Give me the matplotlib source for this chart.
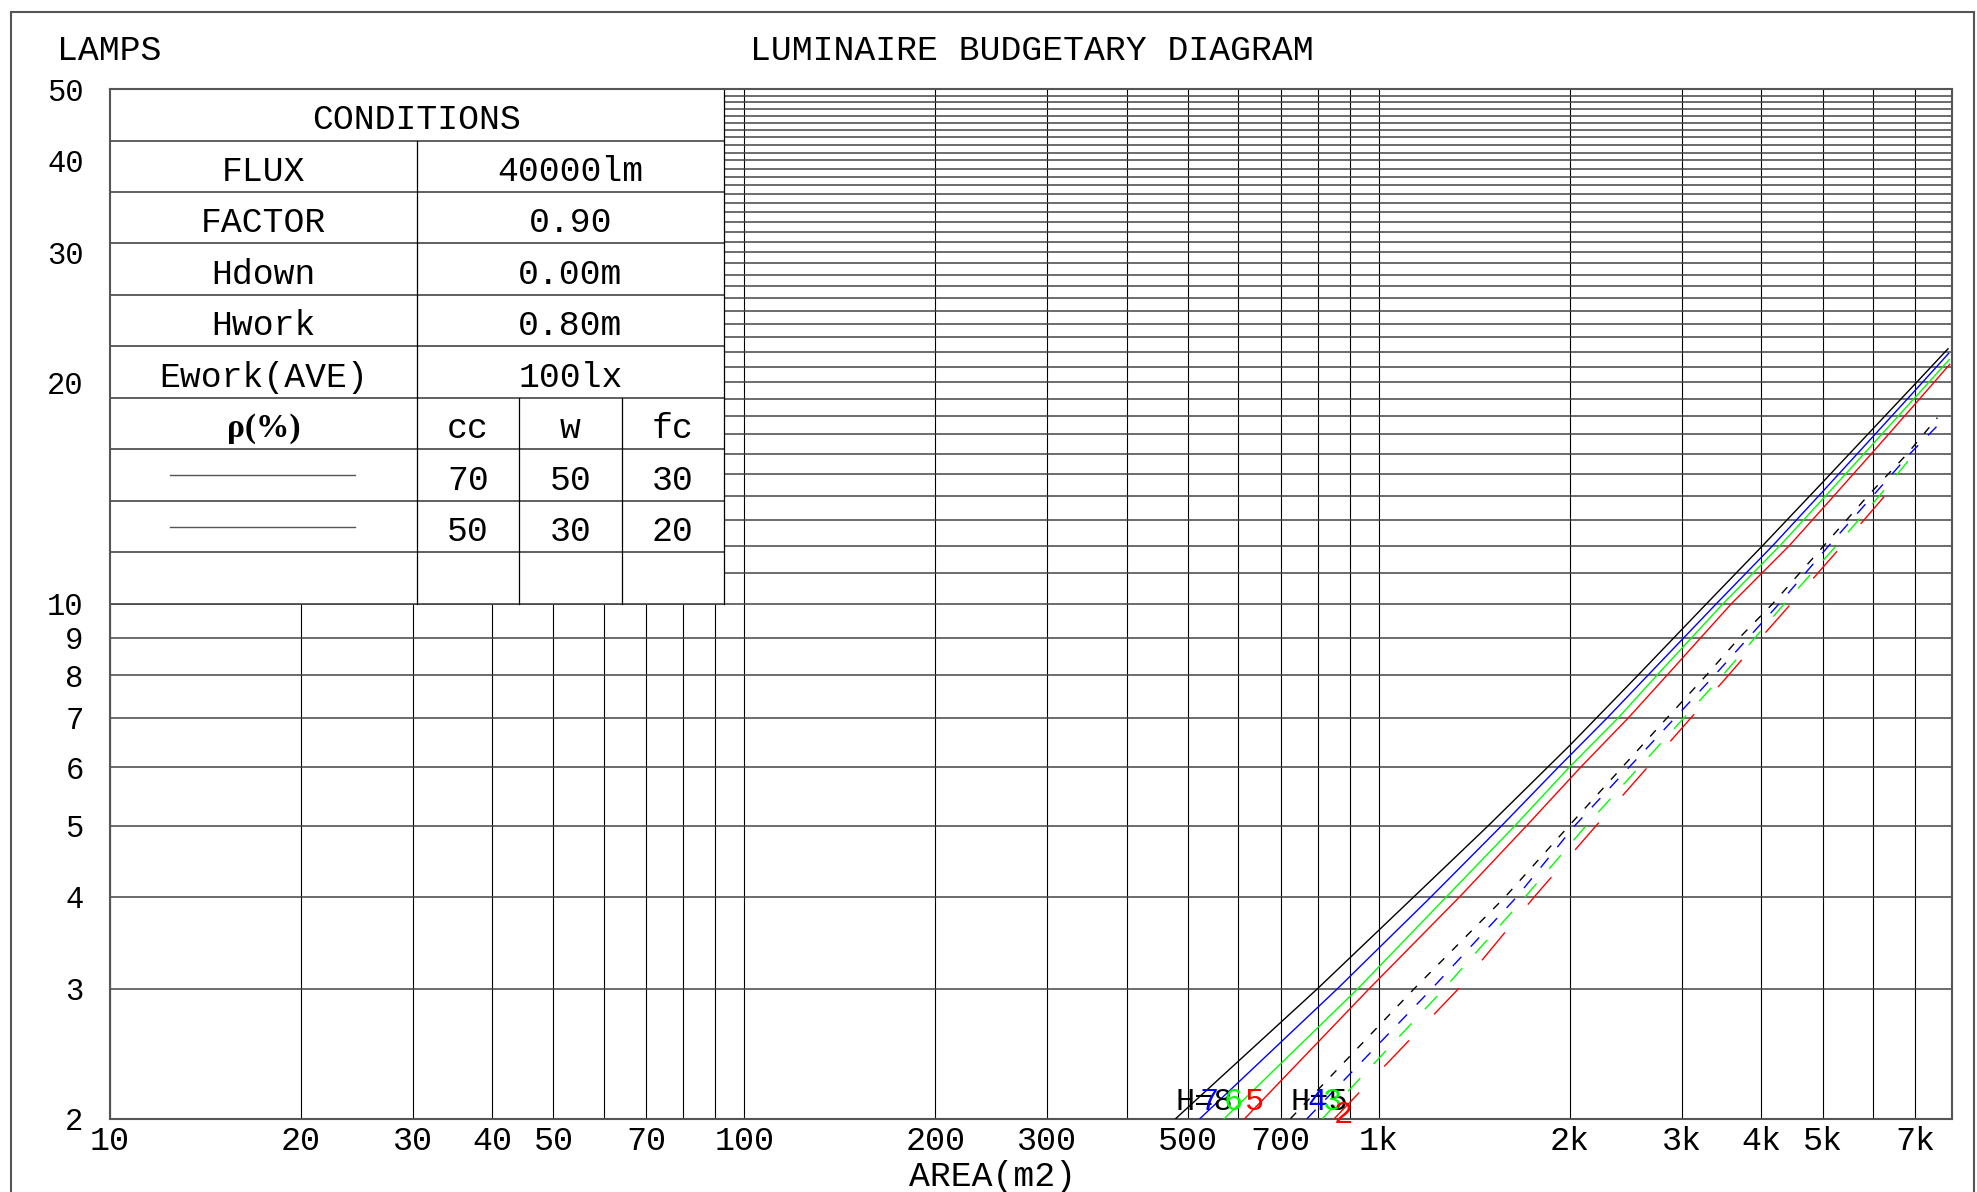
import matplotlib
matplotlib.use("Agg")
import matplotlib.pyplot as plt
from matplotlib.patches import Rectangle
from matplotlib.lines import Line2D
from matplotlib.ticker import FixedLocator, FixedFormatter, NullFormatter

# solid curves (H = 8, 7, 6, 5 m): area (m2) -> lamps
h8_area = [478, 799, 1134, 1487, 2000, 2559, 3280, 4024, 5000, 6000, 7000, 7883]
h8_lamps = [2, 3, 4, 5, 6.43, 8, 10, 12, 14.62, 17.28, 19.9, 22.2]
h7_area = [522, 859, 1207, 1561, 1916, 2288, 2653, 3399, 4174, 5000, 6000, 7000, 7900]
h7_lamps = [2, 3, 4, 5, 6, 7, 8, 10, 12, 14.2, 16.86, 19.5, 21.88]
h6_area = [570, 925, 1276, 1638, 1994, 2381, 2741, 3482, 4285, 5000, 6000, 7000, 7920]
h6_lamps = [2, 3, 4, 5, 6, 7, 8, 10, 12, 13.87, 16.48, 19.08, 21.47]
h5_area = [614, 964, 1339, 1709, 2078, 2470, 2843, 3589, 4433, 5000, 6000, 7000, 7930]
h5_lamps = [2, 3, 4, 5, 6, 7, 8, 10, 12, 13.47, 16.07, 18.69, 21.14]

# dashed curves (H = 5, 4, 3, 2 m)
d5_area = [725, 1135, 1580, 1994, 2843, 3280, 3700, 4170, 5026, 5885, 6805, 7585]
d5_lamps = [2, 3, 4, 5, 7, 8, 9, 10, 12, 14, 16, 17.9]
d4_area = [770, 1210, 1648, 2035, 3379, 4269, 5117, 5993, 6870, 7560]
d4_lamps = [2, 3, 4, 5, 8, 10, 12, 14, 16, 17.4]
d3_area = [814, 1265, 1699, 2120, 3480, 4350, 5258, 6138, 6910]
d3_lamps = [2, 3, 4, 5, 8, 10, 12, 14, 15.85]
d2_area = [850, 1333, 1756, 2199, 3553, 4000, 4457, 5366, 6259, 6329]
d2_lamps = [2, 3, 4, 5, 8, 9, 10, 12, 14, 14.13]

solid = [(h8_area, h8_lamps), (h7_area, h7_lamps), (h6_area, h6_lamps), (h5_area, h5_lamps)]
dashed = [(d5_area, d5_lamps), (d4_area, d4_lamps), (d3_area, d3_lamps), (d2_area, d2_lamps)]
solid_labels = ['H=8', '7', '6', '5']
dashed_labels = ['H=5', '4', '3', '2']
colors = ['black', 'blue', '#00ff00', 'red']
dash_styles = [(6, 8), (9, 10), (13, 14), (26, 26)]

x_ticks = [10, 20, 30, 40, 50, 70, 100, 200, 300, 500, 700, 1000, 2000, 3000, 4000, 5000, 7000]
x_ticklabels = ['10', '20', '30', '40', '50', '70', '100', '200', '300', '500', '700',
                '1k', '2k', '3k', '4k', '5k', '7k']
x_minor = [60, 80, 90, 400, 600, 800, 900, 6000]
y_ticks = [2, 3, 4, 5, 6, 7, 8, 9, 10, 20, 30, 40, 50]
y_minor = [v for v in range(11, 50) if v % 10 != 0]

cond_names = ['FLUX', 'FACTOR', 'Hdown', 'Hwork', 'Ework(AVE)']
cond_values = ['40000lm', '0.90', '0.00m', '0.80m', '100lx']
rho_head = ['cc', 'w', 'fc']
rho_rows = [['70', '50', '30'], ['50', '30', '20']]

MONO = 'Liberation Mono'

fig = plt.figure(figsize=(19.77, 11.92), dpi=100)
ax = fig.add_axes([0.0556, 0.0615, 0.9318, 0.8638])
ax.set_xscale('log')
ax.set_yscale('log')
ax.set_xlim(10, 8000)
ax.set_ylim(2, 50)

ax.xaxis.set_major_locator(FixedLocator(x_ticks))
ax.xaxis.set_major_formatter(FixedFormatter(x_ticklabels))
ax.xaxis.set_minor_locator(FixedLocator(x_minor))
ax.xaxis.set_minor_formatter(NullFormatter())
ax.yaxis.set_major_locator(FixedLocator(y_ticks))
ax.yaxis.set_major_formatter(FixedFormatter([str(v) for v in y_ticks]))
ax.yaxis.set_minor_locator(FixedLocator(y_minor))
ax.yaxis.set_minor_formatter(NullFormatter())
ax.tick_params(which='both', length=0)
ax.tick_params(axis='x', labelsize=24, pad=5)
ax.tick_params(axis='y', labelsize=22, pad=19)
for lab in ax.get_xticklabels() + ax.get_yticklabels():
    lab.set_family(MONO)

ax.set_axisbelow(True)
ax.grid(which='both', axis='x', color='black', lw=0.8)
ax.grid(which='both', axis='y', color='#444444', lw=1.1)
for sp in ax.spines.values():
    sp.set_color('#555555')
    sp.set_linewidth(1.5)

# conditions table (upper left, axes fraction)
tw = 1 / 3
c1 = 1 / 6
ax.add_patch(Rectangle((0, 0.5), tw, 0.5, transform=ax.transAxes,
                       facecolor='white', edgecolor='none', zorder=1))
for k in range(1, 11):
    y = 1 - 0.05 * k
    ax.add_line(Line2D([0, tw], [y, y], transform=ax.transAxes,
                       color='#444444', lw=1.2, zorder=1.5))
ax.add_line(Line2D([tw, tw], [0.5, 1], transform=ax.transAxes, color='black', lw=0.9, zorder=1.5))
ax.add_line(Line2D([c1, c1], [0.5, 0.95], transform=ax.transAxes, color='black', lw=0.9, zorder=1.5))
for xc in [2 / 9, 5 / 18]:
    ax.add_line(Line2D([xc, xc], [0.5, 0.7], transform=ax.transAxes, color='black', lw=0.9, zorder=1.5))

dy = -0.005
txt = dict(transform=ax.transAxes, ha='center', va='center', fontsize=25, family=MONO, zorder=2)
ax.text(c1, 0.975 + dy, 'CONDITIONS', **txt)
for i, (n, v) in enumerate(zip(cond_names, cond_values)):
    yc = 0.925 - 0.05 * i + dy
    ax.text(c1 / 2, yc, n, **txt)
    ax.text((c1 + tw) / 2, yc, v, **txt)
col_x = [7 / 36, 9 / 36, 11 / 36]
ax.text(c1 / 2, 0.675 + dy, 'ρ(%)', transform=ax.transAxes, ha='center', va='center',
        fontsize=24, family='Liberation Serif', weight='bold', zorder=2)
for xc, h in zip(col_x, rho_head):
    ax.text(xc, 0.675 + dy, h, **txt)
for r, row in enumerate(rho_rows):
    yc = 0.625 - 0.05 * r
    ax.add_line(Line2D([0.0326, 0.1333], [yc, yc], transform=ax.transAxes,
                       color='#555555', lw=1.0, zorder=1.5))
    for xc, v in zip(col_x, row):
        ax.text(xc, yc + dy, v, **txt)

# curves
for (xs, ys), c in zip(solid, colors):
    ax.plot(xs, ys, color=c, lw=1.0, zorder=3)
for (xs, ys), c, ds in zip(dashed, colors, dash_styles):
    ax.plot(xs, ys, color=c, lw=1.0, dashes=ds, zorder=3)

for (xs, ys), c, lbl in zip(solid, colors, solid_labels):
    ax.annotate(lbl, (xs[0], ys[0]), xytext=(0, 6), textcoords='offset points',
                ha='left', va='baseline', color=c, fontsize=23, family=MONO, zorder=4)
for i, ((xs, ys), c, lbl) in enumerate(zip(dashed, colors, dashed_labels)):
    off = -3 if i == 3 else 6
    t = ax.annotate(lbl, (xs[0], ys[0]), xytext=(0, off), textcoords='offset points',
                    ha='left', va='baseline', color=c, fontsize=23, family=MONO, zorder=4)
    t.set_clip_on(True)

fig.text(0.522, 0.958, 'LUMINAIRE BUDGETARY DIAGRAM', ha='center', va='center',
         fontsize=25, family=MONO)
fig.text(0.0288, 0.958, 'LAMPS', ha='left', va='center', fontsize=25, family=MONO)
fig.text(0.460, 0.0134, 'AREA(m2)', ha='left', va='center', fontsize=25, family=MONO)

fig.patches.append(Rectangle((0.0056, -0.05), 0.993, 1.04, transform=fig.transFigure,
                             fill=False, edgecolor='#555555', lw=1.5))

fig.savefig('out.png', dpi=100)
